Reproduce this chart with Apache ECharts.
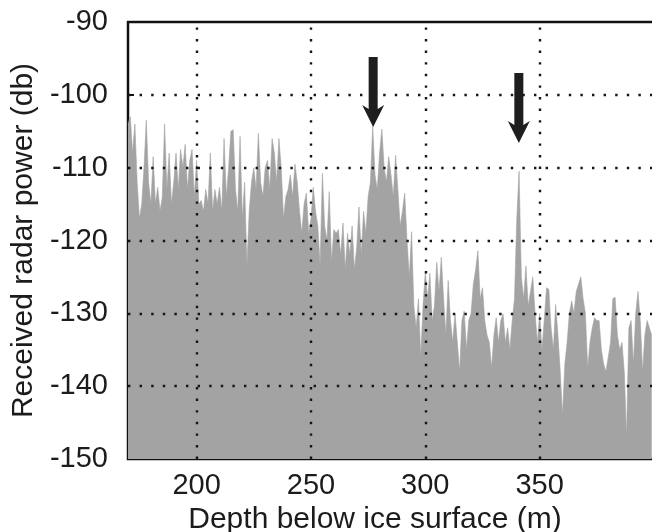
<!DOCTYPE html>
<html>
<head>
<meta charset="utf-8">
<script src="https://cdn.jsdelivr.net/npm/echarts@6/dist/echarts.min.js"></script>
<style>
  html, body { margin: 0; padding: 0; background: #ffffff; }
  #chart { width: 652px; height: 532px; }
</style>
</head>
<body>
<div id="chart"></div>
<script>
// ---- data ----
const depthStart = 170;           // first sample depth (m), 1 m step
const power = [
  -104, -103, -108, -104, -112, -117, -115, -110, -103.5, -112,
  -115, -108.5, -115, -112.7, -116, -114, -104, -113, -108, -115,
  -112, -108, -113, -107.5, -110, -106.8, -113, -109, -107.5, -114,
  -109, -115, -114.5, -116, -113, -115, -108, -116, -113, -115,
  -112.7, -116, -106, -114, -110, -105, -104.8, -113, -116, -105.7,
  -117, -112, -123.5, -116, -112, -110, -113, -105.3, -112, -114,
  -110, -109, -113, -106, -108, -112, -106, -110, -117, -114,
  -113, -111, -114, -109.5, -112, -116, -119, -115, -113.5, -119,
  -117, -112.7, -116, -118, -123.5, -110.8, -118, -120, -113.3, -123,
  -118.5, -119, -118.5, -122, -117.6, -124, -119, -122, -118, -124,
  -121, -115.4, -122, -116, -119, -114, -112, -104.3, -111, -113,
  -108, -104.7, -110, -112, -108.5, -111, -114, -108.3, -113, -118,
  -116, -113.5, -120, -125, -118.8, -129, -132, -128, -136, -129,
  -124.3, -128, -124.5, -131, -129, -123, -127, -122.3, -128, -133,
  -125.5, -131, -134, -130, -134, -138, -131, -129.7, -135, -131,
  -130, -126, -124, -121.4, -128, -126.5, -131, -133, -134, -137.5,
  -133, -130.6, -134, -131, -130.1, -134, -132, -135, -131, -128,
  -117, -110.5, -125, -128, -123.5, -129, -127, -125, -130, -134,
  -130, -135, -131, -126.5, -126.7, -132, -135, -128.8, -133, -138,
  -144, -137, -134, -130, -128.3, -130, -127, -126, -125, -128,
  -130, -137.5, -134, -132, -130.6, -131, -131, -135, -137, -138,
  -136, -134, -128, -127.8, -133, -135, -134, -138, -147, -132,
  -131, -137, -130, -127, -131, -138, -133, -131, -132, -133
];
const xTicks = [200, 250, 300, 350];
const yTicks = [-100, -110, -120, -130, -140];
const arrowDepths = [277.2, 340.9];
const arrowTips = [-104.4, -106.6];

// ---- build ----
const seriesData = power.map((v, i) => [depthStart + i, v]);
const arrowData = arrowDepths.map((d, i) => [d, arrowTips[i]]);
const FONT = '"Liberation Sans", Arial, Helvetica, sans-serif';
const TXT = '#1c1c1c';
const gridStyle = { color: '#151515', width: 2.4, type: [2.4, 9.2], cap: 'butt' };

const chart = echarts.init(document.getElementById('chart'), null, { renderer: 'canvas' });
chart.setOption({
  animation: false,
  backgroundColor: '#ffffff',
  grid: {
    left: 128, top: 22, width: 526, bottom: 73,
    containLabel: false, outerBoundsMode: 'none',
    show: true, borderColor: '#111111', borderWidth: 2.5, backgroundColor: '#ffffff'
  },
  xAxis: {
    type: 'value', min: 170, max: 400,
    axisLine: { show: false },
    splitLine: { show: false },
    axisTick: { show: true, inside: true, length: 6, customValues: xTicks, lineStyle: { color: '#111', width: 2 } },
    axisLabel: { customValues: xTicks, margin: 12, fontSize: 29, fontFamily: FONT, color: TXT },
    name: 'Depth below ice surface (m)', nameLocation: 'middle', nameGap: 42,
    nameTextStyle: { fontSize: 30, fontFamily: FONT, color: TXT, padding: [0, 32, 0, 0] }
  },
  yAxis: {
    type: 'value', min: -150, max: -90, interval: 10,
    axisLine: { show: false },
    splitLine: { show: false },
    axisTick: { show: true, inside: true, length: 6, lineStyle: { color: '#111', width: 2 } },
    axisLabel: { margin: 20, fontSize: 29, fontFamily: FONT, color: TXT },
    name: 'Received radar power (db)', nameLocation: 'middle', nameGap: 80,
    nameTextStyle: { fontSize: 30, fontFamily: FONT, color: TXT }
  },
  series: [
    {
      type: 'line', data: seriesData, showSymbol: false, symbol: 'none',
      lineStyle: { width: 0.6, color: '#a3a3a3' },
      areaStyle: { color: '#a3a3a3', opacity: 1, origin: 'start' },
      silent: true,
      markLine: {
        silent: true, symbol: 'none', label: { show: false },
        lineStyle: gridStyle,
        data: xTicks.map(v => ({ xAxis: v })).concat(yTicks.map(v => ({ yAxis: v })))
      }
    },
    {
      type: 'scatter', data: arrowData, z: 10, silent: true,
      symbol: 'path://M6.5,0 L15.5,0 L15.5,52 L22,48 L11,70 L0,48 L6.5,52 Z',
      symbolSize: [22, 70], symbolOffset: [0, '-50%'],
      symbolKeepAspect: false,
      itemStyle: { color: '#1e1e1e', opacity: 1 }
    }
  ]
});
</script>
</body>
</html>
